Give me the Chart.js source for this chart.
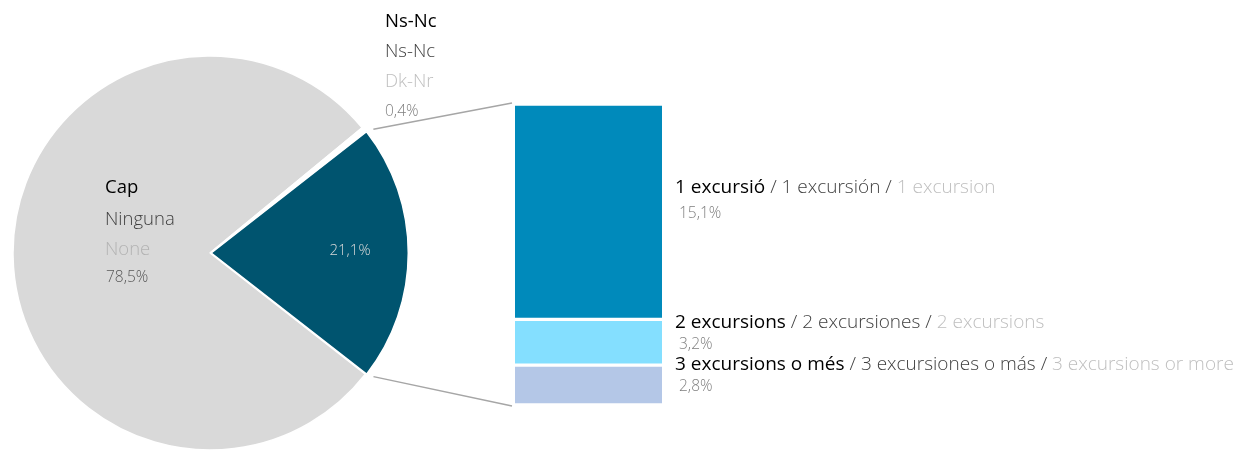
<!DOCTYPE html>
<html>
<head>
<meta charset="utf-8">
<script src="https://cdn.jsdelivr.net/npm/chart.js@4.4.0/dist/chart.umd.min.js"></script>
<style>
  body { margin: 0; background: #fff; }
  #wrap { position: relative; width: 1258px; height: 451px; }
  canvas { position: absolute; left: 0; top: 0; }
</style>
</head>
<body>
<div id="wrap">
  <canvas id="pie" width="1258" height="451"></canvas>
  <canvas id="bar" width="1258" height="451"></canvas>
</div>
<script>
// pie slices, in drawing order (starting at the exploded slice)
const pieCatCa = ['', 'Cap', 'Ns-Nc'];
const pieCatEs = ['', 'Ninguna', 'Ns-Nc'];
const pieCatEn = ['', 'None', 'Dk-Nr'];
const pieValues = [21.1, 78.5, 0.4];
const pieColors = ['#00546f', '#d9d9d9', '#ffffff'];

// breakdown of the exploded slice (top to bottom)
const barCatCa = ['1 excursió', '2 excursions', '3 excursions o més'];
const barCatEs = ['1 excursión', '2 excursiones', '3 excursiones o más'];
const barCatEn = ['1 excursion', '2 excursions', '3 excursions or more'];
const barValues = [15.1, 3.2, 2.8];
const barColors = ['#008abb', '#84dfff', '#b4c7e7'];

const FONT = '"Open Sans", "Noto Sans", sans-serif';
const pct = v => v.toFixed(1).replace('.', ',') + '%';

function drawParts(ctx, x, y, parts, size) {
  ctx.textBaseline = 'middle';
  ctx.textAlign = 'left';
  parts.forEach(p => {
    ctx.font = (p.weight || 300) + ' ' + size + 'px ' + FONT;
    ctx.fillStyle = p.color;
    ctx.fillText(p.text, x, y);
    x += ctx.measureText(p.text).width;
  });
}

Chart.defaults.font.family = FONT;
Chart.defaults.animation = false;

const pieLabels = {
  id: 'pieLabels',
  afterDraw(chart) {
    const ctx = chart.ctx;
    const arcs = chart.getDatasetMeta(0).data;
    ctx.save();
    // exploded slice value
    const a0 = arcs[0];
    const mid0 = (a0.startAngle + a0.endAngle) / 2;
    ctx.font = '300 15px ' + FONT;
    ctx.fillStyle = '#d9d9d9';
    ctx.textAlign = 'center';
    ctx.textBaseline = 'middle';
    ctx.fillText(pct(pieValues[0]), a0.x + Math.cos(mid0) * 140, a0.y + Math.sin(mid0) * 140 - 2);
    // big slice
    const a1 = arcs[1];
    let x = a1.x - 105, y = a1.y - 65;
    drawParts(ctx, x, y, [{text: pieCatCa[1], color: '#000', weight: 500}], 18.5);
    drawParts(ctx, x, y + 32, [{text: pieCatEs[1], color: '#404040'}], 18.5);
    drawParts(ctx, x, y + 62, [{text: pieCatEn[1], color: '#b3b3b3'}], 18.5);
    drawParts(ctx, x + 1, y + 90, [{text: pct(pieValues[1]), color: '#595959'}], 15.5);
    // tiny slice
    const a2 = arcs[2];
    x = a2.x + 175; y = a2.y - 231;
    drawParts(ctx, x, y, [{text: pieCatCa[2], color: '#000', weight: 500}], 18.5);
    drawParts(ctx, x, y + 30, [{text: pieCatEs[2], color: '#404040'}], 18.5);
    drawParts(ctx, x, y + 60, [{text: pieCatEn[2], color: '#bfbfbf'}], 18.5);
    drawParts(ctx, x, y + 90, [{text: pct(pieValues[2]), color: '#7f7f7f'}], 15.5);
    ctx.restore();
  }
};

const pieChart = new Chart(document.getElementById('pie'), {
  type: 'pie',
  data: {
    labels: pieCatCa,
    datasets: [{
      data: pieValues,
      backgroundColor: pieColors,
      borderColor: '#ffffff',
      borderWidth: 1.5,
      offset: [5, 0, 0]
    }]
  },
  options: {
    responsive: false,
    rotation: 52,
    radius: 197,
    layout: { padding: { left: 0, right: 838, top: 56, bottom: 1 } },
    plugins: { legend: { display: false }, tooltip: { enabled: false } }
  },
  plugins: [pieLabels]
});

const barLabels = {
  id: 'barLabels',
  afterDraw(chart) {
    const ctx = chart.ctx;
    ctx.save();
    let top = null, bottom = null;
    barValues.forEach((v, i) => {
      const el = chart.getDatasetMeta(i).data[0];
      const yMid = (el.y + el.base) / 2;
      const x = el.x + el.width / 2 + 13;
      const shift = i === 0 ? 24 : 20;
      drawParts(ctx, x, yMid - shift, [
        {text: barCatCa[i], color: '#000', weight: 500},
        {text: ' / ' + barCatEs[i] + ' / ', color: '#404040'},
        {text: barCatEn[i], color: '#bfbfbf'}
      ], 19);
      drawParts(ctx, x + 4, yMid + 2, [{text: pct(v), color: '#7f7f7f'}], 15.5);
      if (top === null || el.y < top.y) top = el;
      if (bottom === null || el.base > bottom.base) bottom = el;
    });
    // connectors from the exploded slice to the bar
    const a0 = pieChart.getDatasetMeta(0).data[0];
    const mid = (a0.startAngle + a0.endAngle) / 2;
    const ox = Math.cos(mid) * 5, oy = Math.sin(mid) * 5;
    const r = a0.outerRadius + 4;
    const left = top.x - top.width / 2 - 3;
    ctx.strokeStyle = '#a6a6a6';
    ctx.lineWidth = 1.5;
    ctx.beginPath();
    ctx.moveTo(a0.x + ox + Math.cos(a0.startAngle) * r, a0.y + oy + Math.sin(a0.startAngle) * r);
    ctx.lineTo(left, top.y - 1);
    ctx.moveTo(a0.x + ox + Math.cos(a0.endAngle) * r, a0.y + oy + Math.sin(a0.endAngle) * r);
    ctx.lineTo(left, bottom.base + 1);
    ctx.stroke();
    ctx.restore();
  }
};

// stack from the bottom up: last category first
const order = [2, 1, 0];
new Chart(document.getElementById('bar'), {
  type: 'bar',
  data: {
    labels: [''],
    datasets: barValues.map((v, i) => ({
      data: [v],
      backgroundColor: barColors[i],
      borderColor: '#ffffff',
      borderWidth: { top: 2, bottom: 2, left: 0, right: 0 },
      borderSkipped: false,
      order: order[i]
    }))
  },
  options: {
    responsive: false,
    layout: { padding: { left: 515, right: 596, top: 104, bottom: 46 } },
    scales: {
      x: { display: false, stacked: true },
      y: { display: false, stacked: true, min: 0, max: 21.1 }
    },
    datasets: { bar: { barPercentage: 1, categoryPercentage: 1 } },
    plugins: { legend: { display: false }, tooltip: { enabled: false } }
  },
  plugins: [barLabels]
});
</script>
</body>
</html>
